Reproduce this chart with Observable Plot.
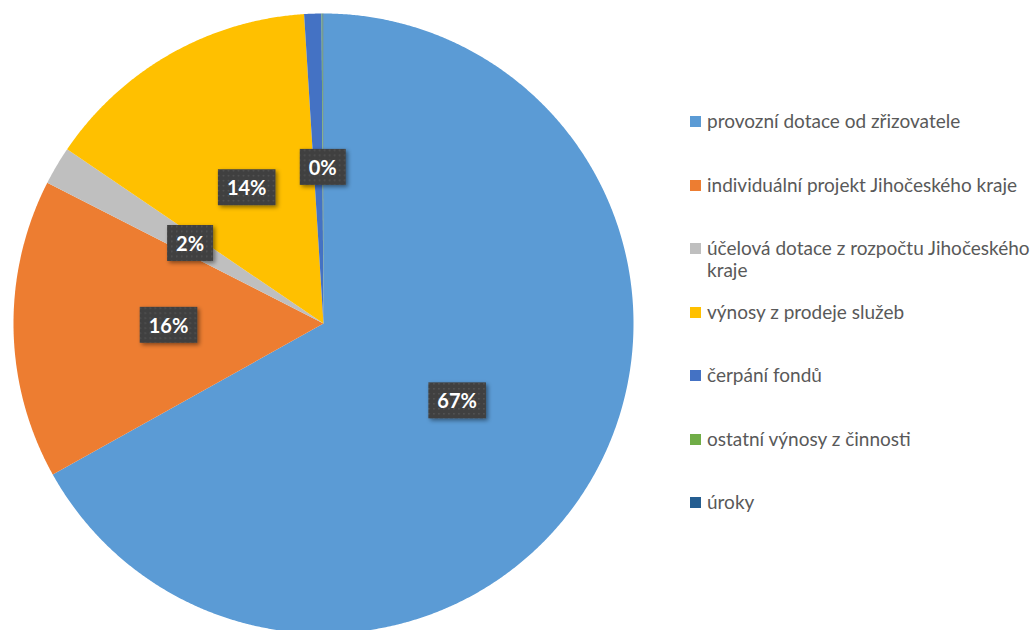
<!DOCTYPE html>
<html>
<head>
<meta charset="utf-8">
<script src="https://cdn.jsdelivr.net/npm/d3@7"></script>
<script src="https://cdn.jsdelivr.net/npm/@observablehq/plot@0.6"></script>
<style>
  html, body { margin: 0; padding: 0; background: #fff; }
  #wrap { position: relative; width: 1032px; height: 630px; overflow: hidden; font-family: Lato, "Noto Sans", sans-serif; }
  #chart { position: absolute; left: 0; top: 0; }
  .leg { position: absolute; left: 690px; width: 342px; font-size: 19px; line-height: 22px; color: #595959; display: flex; align-items: flex-start; }
  .sw { width: 11px; height: 11px; flex: none; margin-top: 6px; margin-right: 6px; }
</style>
</head>
<body>
<div id="wrap"><div id="chart"></div><div id="legend"></div></div>
<script>
const categories = [
  "provozní dotace od zřizovatele",
  "individuální projekt Jihočeského kraje",
  "účelová dotace z rozpočtu Jihočeského kraje",
  "výnosy z prodeje služeb",
  "čerpání fondů",
  "ostatní výnosy z činnosti",
  "úroky"
];
const values = [66.9, 15.6, 2.0, 14.5, 0.9, 0.05, 0.05];
const labels = ["67%", "16%", "2%", "14%", "", "0%", ""];
const colors = ["#5B9BD5", "#ED7D31", "#BFBFBF", "#FFC000", "#4472C4", "#70AD47", "#255E91"];

const arcs = d3.pie().sort(null).value(d => d)(values);
const slicePts = [];
arcs.forEach((a, i) => {
  slicePts.push({cat: categories[i], x: 0, y: 0});
  const n = Math.max(2, Math.ceil((a.endAngle - a.startAngle) / 0.005));
  for (let k = 0; k <= n; k++) {
    const t = a.startAngle + (a.endAngle - a.startAngle) * k / n;
    slicePts.push({cat: categories[i], x: Math.sin(t), y: Math.cos(t)});
  }
});
const labelData = arcs.map((a, i) => {
  const m = (a.startAngle + a.endAngle) / 2;
  return {text: labels[i], x: 0.5 * Math.sin(m), y: 0.5 * Math.cos(m)};
}).filter(d => d.text);

const W = 660, H = 630, R = 310;
const plot = Plot.plot({
  width: W, height: H,
  marginLeft: 13, marginRight: W - 13 - 2 * R, marginTop: 13, marginBottom: 0,
  x: {domain: [-1, 1], axis: null},
  y: {domain: [1 - (H - 13) / R, 1], axis: null},
  color: {domain: categories, range: colors},
  style: {fontFamily: "Lato, 'Noto Sans', sans-serif", background: "transparent"},
  marks: [
    Plot.line(slicePts, {x: "x", y: "y", z: "cat", fill: "cat", stroke: "none", curve: "linear-closed"}),
    Plot.text(labelData, {x: "x", y: "y", text: "text", fill: "white", fontWeight: "bold", fontSize: 20})
  ]
});
document.getElementById("chart").appendChild(plot);

// label boxes
const svg = d3.select(plot);
const defs = svg.insert("defs", ":first-child");
const pat = defs.append("pattern").attr("id", "dots").attr("width", 5).attr("height", 5).attr("patternUnits", "userSpaceOnUse");
pat.append("rect").attr("width", 5).attr("height", 5).attr("fill", "#404040");
pat.append("rect").attr("x", 1).attr("y", 1).attr("width", 1.5).attr("height", 1.5).attr("fill", "#555555");
const f = defs.append("filter").attr("id", "sh").attr("x", "-30%").attr("y", "-30%").attr("width", "160%").attr("height", "160%");
f.append("feDropShadow").attr("dx", 2).attr("dy", 2).attr("stdDeviation", 2).attr("flood-color", "#000").attr("flood-opacity", 0.45);
svg.selectAll('g[aria-label="text"] text').each(function() {
  const bb = this.getBBox();
  const w = bb.width + 18, h = 36;
  const cx = bb.x + bb.width / 2, cy = bb.y + bb.height / 2;
  const r = document.createElementNS("http://www.w3.org/2000/svg", "rect");
  r.setAttribute("x", cx - w / 2);
  r.setAttribute("y", cy - h / 2);
  r.setAttribute("width", w);
  r.setAttribute("height", h);
  r.setAttribute("fill", "url(#dots)");
  r.setAttribute("filter", "url(#sh)");
  const tr = this.getAttribute("transform");
  if (tr) r.setAttribute("transform", tr);
  this.parentNode.insertBefore(r, this);
});

// legend
const leg = d3.select("#legend");
categories.forEach((c, i) => {
  const row = leg.append("div").attr("class", "leg").style("top", (110 + i * 63.5) + "px");
  row.append("div").attr("class", "sw").style("background", colors[i]);
  row.append("div").text(c);
});
</script>
</body>
</html>
